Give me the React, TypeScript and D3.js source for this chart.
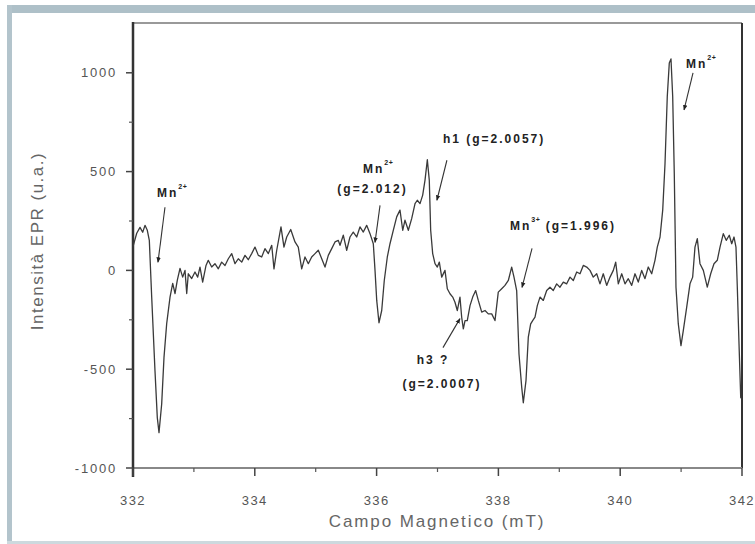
import React from "react";
import * as d3 from "d3";

// EPR spectrum: magnetic field (mT) and signal intensity (a.u.)
const field: number[] = [
  332.0, 332.061, 332.115, 332.159, 332.197, 332.235, 332.268, 332.307, 332.361, 332.399,
  332.427, 332.471, 332.509, 332.553, 332.608, 332.652, 332.69, 332.727, 332.772, 332.816,
  332.854, 332.882, 332.908, 332.964, 333.018, 333.062, 333.1, 333.144, 333.199, 333.236,
  333.292, 333.346, 333.401, 333.456, 333.511, 333.565, 333.621, 333.675, 333.729, 333.785,
  333.839, 333.893, 333.949, 334.003, 334.058, 334.113, 334.167, 334.222, 334.278, 334.315,
  334.36, 334.43, 334.479, 334.524, 334.59, 334.66, 334.714, 334.77, 334.824, 334.879,
  334.934, 334.989, 335.043, 335.099, 335.153, 335.207, 335.263, 335.317, 335.371, 335.399,
  335.453, 335.509, 335.563, 335.617, 335.673, 335.727, 335.782, 335.837, 335.892, 335.946,
  335.974, 336.002, 336.039, 336.084, 336.126, 336.176, 336.22, 336.274, 336.33, 336.384,
  336.429, 336.466, 336.521, 336.576, 336.631, 336.668, 336.713, 336.757, 336.795, 336.833,
  336.865, 336.888, 336.921, 336.959, 336.997, 337.03, 337.069, 337.123, 337.161, 337.205,
  337.25, 337.287, 337.325, 337.369, 337.397, 337.424, 337.452, 337.489, 337.534, 337.578,
  337.627, 337.67, 337.726, 337.78, 337.834, 337.89, 337.944, 337.998, 338.054, 338.108,
  338.163, 338.218, 338.256, 338.3, 338.338, 338.383, 338.409, 338.453, 338.491, 338.53,
  338.563, 338.601, 338.639, 338.683, 338.737, 338.793, 338.847, 338.901, 338.957, 339.011,
  339.066, 339.121, 339.176, 339.23, 339.286, 339.34, 339.394, 339.45, 339.504, 339.558,
  339.614, 339.668, 339.722, 339.778, 339.833, 339.887, 339.926, 339.969, 340.025, 340.079,
  340.133, 340.189, 340.243, 340.297, 340.353, 340.407, 340.461, 340.517, 340.571, 340.609,
  340.654, 340.698, 340.736, 340.773, 340.806, 340.834, 340.862, 340.888, 340.916, 340.954,
  340.998, 341.036, 341.092, 341.146, 341.19, 341.228, 341.266, 341.31, 341.365, 341.43,
  341.486, 341.54, 341.594, 341.639, 341.693, 341.741, 341.791, 341.831, 341.869, 341.901,
  341.923, 341.951, 341.979, 342.0,
];

const intensity: number[] = [
  120, 188, 218, 193, 228, 203, 152, -135, -508, -745,
  -821, -676, -440, -270, -135, -66, -117, -51, 10, -34,
  0, -117, -17, -41, -8, -34, 17, -59, 25, 51,
  17, 34, 8, 42, 25, 59, 85, 34, 59, 42,
  76, 54, 85, 118, 76, 68, 110, 85, 127, 8,
  102, 220, 118, 169, 207, 144, 118, 8, 68, 34,
  68, 85, 102, 59, 17, 76, 110, 144, 152, 127,
  178, 102, 169, 194, 169, 220, 194, 228, 186, 135,
  0, -152, -265, -203, -51, 68, 135, 203, 271, 305,
  203, 254, 203, 262, 338, 355, 338, 381, 457, 560,
  457, 203, 85, 34, 17, 42, -34, 0, -93, -118,
  -135, -161, -203, -135, -237, -296, -254, -254, -178, -135,
  -102, -152, -211, -203, -220, -220, -254, -110, -93, -76,
  -51, 17, -34, -102, -423, -592, -670, -558, -338, -271,
  -254, -237, -178, -135, -152, -102, -85, -102, -68, -85,
  -59, -68, -34, -51, -8, -17, 25, 17, 0, -34,
  -17, -68, -17, -76, -34, 0, 42, -68, -17, -68,
  -42, -76, -17, -59, 0, -42, 17, -17, 51, 118,
  169, 305, 541, 880, 1049, 1070, 880, 491, -85, -271,
  -381, -305, -186, -68, -34, 118, 161, 34, 0, -85,
  -17, 34, 51, 118, 186, 152, 178, 135, 169, 118,
  -85, -372, -643, -650,
];

const xTicks: number[] = [332, 334, 336, 338, 340, 342];
const xMinorTicks: number[] = [333, 335, 337, 339, 341];
const yTicks: number[] = [-1000, -500, 0, 500, 1000];
const yMinorTicks: number[] = [-750, -250, 250, 750];

// Peak assignments: arrow tip in data units
const annotTipField: number[] = [332.41, 335.974, 336.99, 338.388, 337.369, 341.048];
const annotTipValue: number[] = [41, 142, 355, -86, -244, 812];

const W = 755;
const H = 544;
const M = { left: 133, right: 742, top: 23, bottom: 468 };

type Piece = { text: string; sup?: boolean };
type Label = { dx: number; dy: number; anchor: "start" | "middle"; pieces: Piece[] };
type Annot = { tail: [number, number]; labels: Label[] };

// Arrow tails and label placements, in pixels relative to each tip
const annotLayout: Annot[] = [
  { tail: [7, -55], labels: [{ dx: -1, dy: -65, anchor: "start", pieces: [{ text: "Mn" }, { text: "2+", sup: true }] }] },
  {
    tail: [5, -37],
    labels: [
      { dx: -12, dy: -69, anchor: "start", pieces: [{ text: "Mn" }, { text: "2+", sup: true }] },
      { dx: -2.5, dy: -49, anchor: "middle", pieces: [{ text: "(g=2.012)" }] },
    ],
  },
  { tail: [10, -40], labels: [{ dx: 6, dy: -57, anchor: "start", pieces: [{ text: "h1 (g=2.0057)" }] }] },
  {
    tail: [10, -39],
    labels: [{ dx: -12, dy: -57, anchor: "start", pieces: [{ text: "Mn" }, { text: "3+", sup: true }, { text: " (g=1.996)" }] }],
  },
  {
    tail: [-17, 29],
    labels: [
      { dx: -27, dy: 45, anchor: "middle", pieces: [{ text: "h3 ?" }] },
      { dx: -18, dy: 69, anchor: "middle", pieces: [{ text: "(g=2.0007)" }] },
    ],
  },
  { tail: [9, -37], labels: [{ dx: 2, dy: -42, anchor: "start", pieces: [{ text: "Mn" }, { text: "2+", sup: true }] }] },
];

export default function App() {
  const x = d3.scaleLinear().domain([332, 342]).range([M.left, M.right]);
  const y = d3.scaleLinear().domain([-1000, 1252]).range([M.bottom, M.top]);

  const points: [number, number][] = field.map((f, i) => [f, intensity[i]]);
  const line = d3
    .line<[number, number]>()
    .x((d) => x(d[0]))
    .y((d) => y(d[1]));

  const tickFont = "'Liberation Sans', Arial, sans-serif";
  const tickColor = "#555";

  return (
    <div style={{ position: "absolute", left: 0, top: 0 }}>
      <svg width={W} height={H} style={{ display: "block", background: "#fff" }}>
        <defs>
          <marker id="tip" viewBox="0 0 10 10" refX="9" refY="5" markerWidth="5" markerHeight="5" orient="auto">
            <path d="M0,1 L10,5 L0,9 z" fill="#222" />
          </marker>
        </defs>

        {/* window chrome */}
        <rect x={7} y={5} width={W - 7} height={8} fill="#aec0c8" />
        <rect x={7} y={5} width={5} height={H - 5} fill="#b3c4cc" />
        <rect x={7} y={541} width={W - 7} height={3} fill="#cdd9de" />

        {/* frame */}
        <line x1={M.left} x2={M.right} y1={M.top} y2={M.top} stroke="#777" strokeWidth={1.5} />
        <line x1={M.right} x2={M.right} y1={M.top} y2={M.bottom} stroke="#333" strokeWidth={2} />
        <line x1={M.left - 1} x2={M.right} y1={M.bottom} y2={M.bottom} stroke="#888" strokeWidth={2} />
        <line x1={M.left} x2={M.left} y1={M.top - 1} y2={M.bottom + 9} stroke="#333" strokeWidth={2.5} />

        {/* y axis */}
        {yTicks.map((t) => (
          <g key={"y" + t}>
            <line x1={M.left - 7} x2={M.left} y1={y(t)} y2={y(t)} stroke="#444" strokeWidth={1.5} />
            <text
              x={117}
              y={y(t)}
              dy="0.36em"
              textAnchor="end"
              fontFamily={tickFont}
              fontSize={13}
              letterSpacing={1.8}
              fill={tickColor}
            >
              {t}
            </text>
          </g>
        ))}
        {yMinorTicks.map((t) => (
          <line key={"ym" + t} x1={M.left - 4} x2={M.left} y1={y(t)} y2={y(t)} stroke="#555" strokeWidth={1.2} />
        ))}

        {/* x axis */}
        {xTicks.map((t) => (
          <g key={"x" + t}>
            <line x1={x(t)} x2={x(t)} y1={M.bottom} y2={M.bottom + 8} stroke="#444" strokeWidth={1.5} />
            <text
              x={x(t)}
              y={505}
              textAnchor="middle"
              fontFamily={tickFont}
              fontSize={13}
              letterSpacing={1.4}
              fill={tickColor}
            >
              {t}
            </text>
          </g>
        ))}
        {xMinorTicks.map((t) => (
          <line key={"xm" + t} x1={x(t)} x2={x(t)} y1={M.bottom} y2={M.bottom + 4} stroke="#555" strokeWidth={1.2} />
        ))}

        {/* axis titles */}
        <text
          x={437}
          y={527}
          textAnchor="middle"
          fontFamily={tickFont}
          fontSize={17}
          letterSpacing={1.9}
          fill="#666"
        >
          Campo Magnetico (mT)
        </text>
        <text
          transform="translate(43,241) rotate(-90)"
          textAnchor="middle"
          fontFamily={tickFont}
          fontSize={17}
          letterSpacing={1.5}
          fill="#666"
        >
          Intensità EPR (u.a.)
        </text>

        {/* spectrum */}
        <path d={line(points) ?? ""} fill="none" stroke="#3a3a3a" strokeWidth={1.3} strokeLinejoin="round" />

        {/* peak assignments */}
        {annotLayout.map((a, i) => {
          const tx = x(annotTipField[i]);
          const ty = y(annotTipValue[i]);
          return (
            <g key={"a" + i}>
              <line
                x1={tx + a.tail[0]}
                y1={ty + a.tail[1]}
                x2={tx}
                y2={ty}
                stroke="#333"
                strokeWidth={1.1}
                markerEnd="url(#tip)"
              />
              {a.labels.map((l, j) => (
                <text
                  key={j}
                  x={tx + l.dx}
                  y={ty + l.dy}
                  textAnchor={l.anchor}
                  fontFamily={tickFont}
                  fontWeight="bold"
                  fontSize={12}
                  letterSpacing={2}
                  fill="#222"
                >
                  {l.pieces.map((p, k) =>
                    p.sup ? (
                      <tspan key={k} fontSize={7} letterSpacing={0.5} dy={-8}>
                        {p.text}
                      </tspan>
                    ) : (
                      <tspan key={k} dy={k > 0 && l.pieces[k - 1].sup ? 8 : 0}>
                        {p.text}
                      </tspan>
                    )
                  )}
                </text>
              ))}
            </g>
          );
        })}
      </svg>
    </div>
  );
}
